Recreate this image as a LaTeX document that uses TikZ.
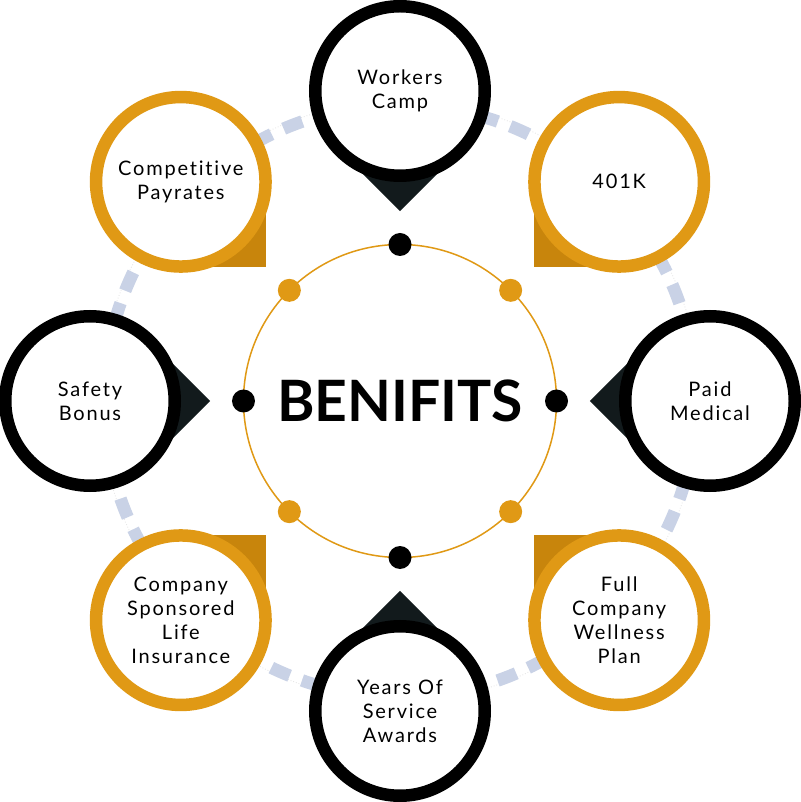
\documentclass[tikz,border=0pt]{standalone}
\usepackage{fontspec}
\setmainfont{Lato}
\usetikzlibrary{calc}
\definecolor{orng}{HTML}{E09915}
\definecolor{orngdk}{HTML}{C8850C}
\definecolor{pinblk}{HTML}{121A1C}
\definecolor{ringblue}{HTML}{C9D2E6}
\newfontfamily\lblfont[LetterSpace=9,Ligatures={NoCommon}]{Lato}
\tikzset{
  lbl/.style={align=center, text=black, inner sep=0pt,
    font=\lblfont\fontsize{20}{24}\selectfont},
  title/.style={text=black, inner sep=0pt,
    font=\fontsize{57}{60}\selectfont\bfseries},
  blkdot/.style={fill=black},
  ordot/.style={fill=orng},
}
\newcommand\benefit[5]{%
  \coordinate (#1) at (#2:310);
  \fill[#4] (#1) -- ($(#1)+({#2+135}:85)$) -- ($(#1)+({#2+180}:120.2)$) -- ($(#1)+({#2+225}:85)$) -- cycle;
  \draw[#3, line width=12.5pt, fill=white] (#1) circle (84.75);
  \node[lbl] (#1-t) at (#1) {#5};
}
\begin{document}
\begin{tikzpicture}[x=1pt,y=1pt]
\useasboundingbox (-400,-401) rectangle (400,401);
\fill[white] (-400,-401) rectangle (400,401);
\coordinate (C) at (0,0);
% dashed outer ring
\draw[gray!20, line width=0.8pt, dotted] (C) circle (300);
\draw[ringblue, line width=12.5pt, dash pattern=on 20pt off 13.21pt] (C) circle (296);
% centre
\draw[orng, line width=1.5pt] (C) circle (156.5);
\foreach \a/\s in {0/blkdot,90/blkdot,180/blkdot,270/blkdot,45/ordot,135/ordot,225/ordot,315/ordot}
  \fill[\s] (\a:156.5) circle (11.5);
\node[title] (T) at (C) {BENIFITS};
% benefits
\benefit{wc}{90}{black}{pinblk}{Workers\\Camp}
\benefit{k4}{45}{orng}{orngdk}{401K}
\benefit{pm}{0}{black}{pinblk}{Paid\\Medical}
\benefit{fw}{-45}{orng}{orngdk}{Full\\Company\\Wellness\\Plan}
\benefit{ys}{-90}{black}{pinblk}{Years Of\\Service\\Awards}
\benefit{cs}{-135}{orng}{orngdk}{Company\\Sponsored\\Life\\Insurance}
\benefit{sb}{180}{black}{pinblk}{Safety\\Bonus}
\benefit{cp}{135}{orng}{orngdk}{Competitive\\Payrates}
\end{tikzpicture}
\end{document}
